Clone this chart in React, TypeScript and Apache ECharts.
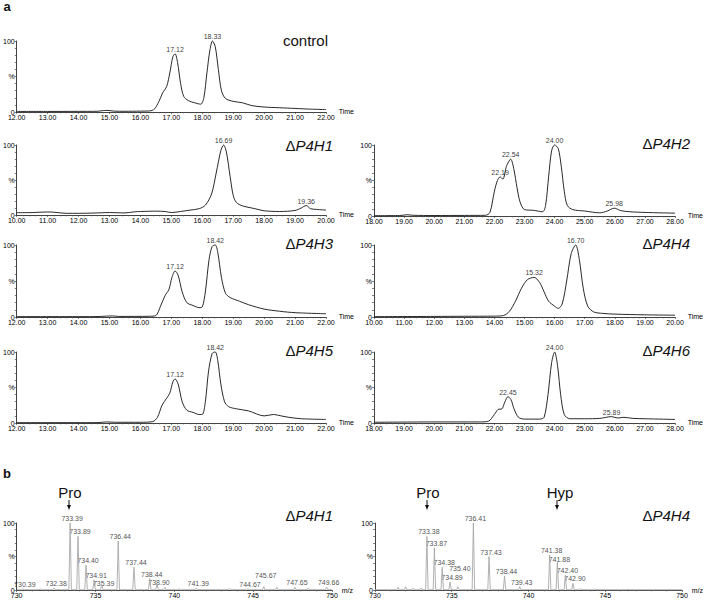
import React, { useEffect, useRef } from "react";
import * as echarts from "echarts";

const FONT = "'Liberation Sans', Arial, sans-serif";

// ---- chromatogram traces [time, %] ----
const controlTrace = [[12.0,0.8],[13.0,0.8],[14.0,0.9],[14.6,1],[14.8,2],[14.95,2.2],[15.15,1.2],[15.5,1],[16.0,1.2],[16.3,1.5],[16.45,4],[16.6,15],[16.72,27],[16.85,36],[16.95,55],[17.05,78],[17.12,82],[17.2,70],[17.3,40],[17.4,22],[17.55,16],[17.75,13],[17.95,11],[18.05,20],[18.15,55],[18.25,88],[18.33,100],[18.42,92],[18.52,60],[18.62,30],[18.75,19],[19.0,15],[19.3,13],[19.6,9],[20.0,7],[20.5,6],[21.0,5],[21.5,4],[22.0,3.5]];
const p4h1Trace = [[10.0,3.3],[10.5,3.5],[11.0,4.3],[11.2,4],[11.6,2.4],[12.0,2.4],[12.5,2.8],[13.0,3.5],[13.5,3],[13.8,4.5],[14.0,5],[14.5,5.5],[14.8,5],[15.0,3.5],[15.3,5],[15.6,7],[15.9,9],[16.1,14],[16.3,30],[16.45,60],[16.6,92],[16.69,100],[16.78,90],[16.9,55],[17.0,28],[17.1,18],[17.3,13],[17.6,10],[17.8,8],[18.0,6],[18.5,5],[19.0,6.5],[19.2,10],[19.36,13.5],[19.5,9],[19.7,8],[20.0,7]];
const p4h2Trace = [[18.0,0.5],[18.9,0.8],[19.1,1.8],[19.3,1],[20.0,0.7],[21.0,0.8],[21.7,1],[21.85,5],[22.0,35],[22.1,50],[22.19,55],[22.28,52],[22.4,70],[22.54,80],[22.65,65],[22.75,40],[22.85,20],[23.0,9],[23.3,8],[23.6,6],[23.7,15],[23.8,55],[23.9,92],[24.0,100],[24.12,95],[24.22,70],[24.32,35],[24.42,15],[24.6,9],[25.0,7],[25.5,4.5],[25.75,7],[25.98,11],[26.2,7.5],[26.5,6],[27.0,5],[28.0,4]];
const p4h3Trace = [[12.0,0.5],[14.5,0.5],[14.9,1.2],[15.1,1.5],[15.3,0.8],[16.3,1],[16.5,2],[16.65,15],[16.8,30],[16.92,38],[17.02,55],[17.12,64],[17.22,58],[17.35,35],[17.5,20],[17.7,16],[17.9,13],[18.0,14],[18.1,35],[18.22,80],[18.32,98],[18.42,100],[18.5,90],[18.62,55],[18.75,33],[18.9,27],[19.2,22],[19.5,17],[20.0,11],[20.5,8],[21.0,6],[22.0,4.5]];
const p4h4Trace = [[10.0,0.5],[12.0,0.8],[13.0,1],[14.0,1.2],[14.3,2],[14.5,8],[14.7,22],[14.9,40],[15.1,52],[15.32,55],[15.5,48],[15.65,35],[15.8,22],[16.0,15],[16.12,12],[16.25,18],[16.4,50],[16.55,88],[16.7,100],[16.82,80],[16.95,40],[17.1,15],[17.3,7],[17.6,5],[18.0,4],[19.0,3],[20.0,2.5]];
const p4h5Trace = [[12.0,0.5],[14.6,0.5],[14.9,1.5],[15.2,1],[16.0,1],[16.4,2],[16.55,8],[16.7,25],[16.85,35],[16.95,42],[17.05,58],[17.12,62],[17.22,55],[17.35,30],[17.5,18],[17.7,15],[17.9,12],[18.0,12],[18.1,30],[18.2,72],[18.32,98],[18.42,100],[18.5,88],[18.6,55],[18.72,30],[18.85,23],[19.1,20],[19.5,17],[20.0,10],[20.3,12],[20.55,10],[20.8,8],[21.2,6],[22.0,5]];
const p4h6Trace = [[18.0,1],[20.0,1.5],[21.5,1.5],[21.8,2.5],[22.0,12],[22.12,19],[22.25,20],[22.35,30],[22.45,37],[22.55,33],[22.65,20],[22.8,8],[23.0,5.5],[23.5,5.5],[23.65,8],[23.78,40],[23.9,85],[24.0,100],[24.1,80],[24.2,40],[24.32,12],[24.5,6],[25.0,6],[25.5,6.5],[25.89,9],[26.1,7],[26.3,8],[26.6,6.5],[27.0,6],[28.0,5]];

// ---- labelled chromatogram peaks [time, %] ----
const controlPeaks = [[17.12,82],[18.33,100]];
const p4h1Peaks = [[16.69,100],[19.36,13.5]];
const p4h2Peaks = [[22.19,55],[22.54,80],[24.0,100],[25.98,11]];
const p4h3Peaks = [[17.12,64],[18.42,100]];
const p4h4Peaks = [[15.32,55],[16.7,100]];
const p4h5Peaks = [[17.12,62],[18.42,100]];
const p4h6Peaks = [[22.45,37],[24.0,100],[25.89,9]];

// ---- mass spectra [m/z, %] ----
const ms1Peaks = [[730.39,2],[732.38,3],[733.39,100],[733.89,80],[734.40,37],[734.91,15],[735.39,8],[736.44,73],[737.44,34],[738.44,17],[738.90,9],[741.39,3],[744.67,2],[745.67,5],[747.65,4],[749.66,4]];
const ms1Minor = [[731.5,1.5],[739.4,4],[740.3,2],[743.5,2.5],[746.5,4],[748.5,3]];
const ms4Peaks = [[733.38,80],[733.87,63],[734.38,34],[734.89,12],[735.40,5],[736.41,100],[737.43,50],[738.44,21],[739.43,5],[741.38,52],[741.88,42],[742.40,22],[742.90,10]];
const ms4Minor = [[731.5,4],[732.0,5],[732.5,3],[733.0,3],[743.4,2],[744.3,2],[746.5,1]];

const chromPanels = [
  { name: "control", trace: controlTrace, peaks: controlPeaks, min: 12, max: 22, grid: { left: 16, top: 41, width: 310, height: 71 } },
  { name: "P4H1", trace: p4h1Trace, peaks: p4h1Peaks, min: 10, max: 20, grid: { left: 16, top: 145, width: 310, height: 70 } },
  { name: "P4H2", trace: p4h2Trace, peaks: p4h2Peaks, min: 18, max: 28, grid: { left: 374, top: 145, width: 302, height: 71 } },
  { name: "P4H3", trace: p4h3Trace, peaks: p4h3Peaks, min: 12, max: 22, grid: { left: 16, top: 245, width: 310, height: 72 } },
  { name: "P4H4", trace: p4h4Trace, peaks: p4h4Peaks, min: 10, max: 20, grid: { left: 374, top: 245, width: 302, height: 72 } },
  { name: "P4H5", trace: p4h5Trace, peaks: p4h5Peaks, min: 12, max: 22, grid: { left: 16, top: 352, width: 310, height: 71 } },
  { name: "P4H6", trace: p4h6Trace, peaks: p4h6Peaks, min: 18, max: 28, grid: { left: 374, top: 352, width: 302, height: 71 } },
];
const msPanels = [
  { peaks: ms1Peaks, minor: ms1Minor, grid: { left: 16, top: 523, width: 316, height: 67 } },
  { peaks: ms4Peaks, minor: ms4Minor, grid: { left: 375, top: 523, width: 315, height: 67 } },
];

const MS_FONT = 7;
const MS_LABEL_DX = 2;

function msProfile(peaks: number[][], minor: number[][]) {
  const all = [...peaks, ...minor].sort((a, b) => a[0] - b[0]);
  const pts: number[][] = [[730, 0.4]];
  all.forEach(([mz, h]) => {
    pts.push([mz - 0.08, 0.4], [mz, h], [mz + 0.08, 0.4]);
  });
  pts.push([750, 0.4]);
  return pts;
}

// place MS peak labels so they don't collide: drop below a colliding label, or lift above it near the axis
function msLabelItems(peaks: number[][], grid: any) {
  const pxX = (mz: number) => grid.left + ((mz - 730) / 20) * grid.width + MS_LABEL_DX;
  const pxY = (h: number) => grid.top + grid.height - (h / 100) * grid.height;
  const lh = 8;
  const placed: { x0: number; x1: number; y0: number; y1: number }[] = [];
  return peaks.map(([mz, h]) => {
    const txt = mz.toFixed(2);
    const w = txt.length * MS_FONT * 0.52;
    const cx = pxX(mz);
    const natBottom = pxY(h) - 1;
    let box = { x0: cx - w / 2, x1: cx + w / 2, y0: natBottom - lh, y1: natBottom };
    const hits = placed.filter((b) => b.x0 < box.x1 && b.x1 > box.x0 && b.y0 < box.y1 && b.y1 > box.y0);
    if (hits.length) {
      const below = Math.max(...hits.map((b) => b.y1)) + 0.5;
      if (below + lh <= grid.top + grid.height - 1) {
        box = { ...box, y0: below, y1: below + lh };
      } else {
        const above = Math.min(...hits.map((b) => b.y0)) - 0.5;
        box = { ...box, y0: above - lh, y1: above };
      }
    }
    placed.push(box);
    const dy = box.y1 - natBottom;
    return { value: [mz, h], label: { offset: [MS_LABEL_DX, dy] } };
  });
}

const yLabel = (v: number) => (v === 0 ? "0" : v === 50 ? "%" : v === 100 ? "100" : "");
const TXT = "#000";

function buildOption() {
  const grids: any[] = [];
  const xAxes: any[] = [];
  const yAxes: any[] = [];
  const series: any[] = [];
  const lineAx = { show: true, lineStyle: { color: "#111", width: 0.8 } };

  const addY = (i: number) => {
    yAxes.push({
      type: "value", gridIndex: i, min: 0, max: 100, interval: 10,
      axisLine: lineAx, splitLine: { show: false },
      axisTick: { show: true, length: 2, lineStyle: { color: "#333", width: 0.6 } },
      axisLabel: { formatter: yLabel, fontSize: 7, color: TXT, fontFamily: FONT, margin: 2 },
    });
  };

  chromPanels.forEach((p, i) => {
    grids.push({ ...p.grid, containLabel: false });
    xAxes.push({
      type: "value", gridIndex: i, min: p.min, max: p.max, interval: 1,
      name: "Time", nameLocation: "end", nameGap: 2,
      nameTextStyle: { fontSize: 7, color: TXT, fontFamily: FONT, verticalAlign: "bottom", padding: [0, 0, -3, 0] },
      axisLine: lineAx, splitLine: { show: false },
      axisTick: { show: true, length: 2, lineStyle: { color: "#333", width: 0.6 } },
      minorTick: { show: true, splitNumber: 5, length: 1.5, lineStyle: { color: "#555", width: 0.5 } },
      axisLabel: { formatter: (v: number) => v.toFixed(2), fontSize: 7, color: TXT, fontFamily: FONT, margin: 2, showMinLabel: true, showMaxLabel: true },
    });
    addY(i);
    series.push({
      type: "line", xAxisIndex: i, yAxisIndex: i, data: p.trace, smooth: 0.3, symbol: "none",
      lineStyle: { color: "#111", width: 0.9 }, clip: false, silent: true,
    });
    series.push({
      type: "scatter", xAxisIndex: i, yAxisIndex: i, data: p.peaks, symbolSize: 0, silent: true,
      itemStyle: { color: "#000" },
      label: { show: true, position: "top", distance: 1, fontSize: 7, color: TXT, fontFamily: FONT,
        formatter: (d: any) => d.value[0].toFixed(2) },
    });
  });

  msPanels.forEach((p, j) => {
    const i = chromPanels.length + j;
    grids.push({ ...p.grid, containLabel: false });
    xAxes.push({
      type: "value", gridIndex: i, min: 730, max: 750, interval: 5,
      name: "m/z", nameLocation: "end", nameGap: 3,
      nameTextStyle: { fontSize: 7, color: TXT, fontFamily: FONT, verticalAlign: "middle", padding: [0, 0, 4, 0] },
      axisLine: lineAx, splitLine: { show: false },
      axisTick: { show: true, length: 2, lineStyle: { color: "#333", width: 0.6 } },
      minorTick: { show: true, splitNumber: 5, length: 1.5, lineStyle: { color: "#555", width: 0.5 } },
      axisLabel: { fontSize: 7, color: TXT, fontFamily: FONT, margin: 2, showMinLabel: true, showMaxLabel: true },
    });
    addY(i);
    series.push({
      type: "line", xAxisIndex: i, yAxisIndex: i, data: msProfile(p.peaks, p.minor), smooth: false, symbol: "none",
      lineStyle: { color: "#a8a8a8", width: 0.9 }, clip: false, silent: true,
    });
    series.push({
      type: "scatter", xAxisIndex: i, yAxisIndex: i, data: msLabelItems(p.peaks, p.grid), symbolSize: 0, silent: true,
      itemStyle: { color: "#000" },
      label: { show: true, position: "top", distance: 1, fontSize: MS_FONT, color: "#222", fontFamily: FONT,
        formatter: (d: any) => d.value[0].toFixed(2) },
    });
  });

  const title = (x: number, y: number, name: string) => ({
    type: "text", x, y,
    style: {
      text: name === "control" ? "control" : "{d|Δ}{i|" + name + "}",
      rich: { d: { fontStyle: "normal", fontSize: 15, fontFamily: FONT, fill: "#111" }, i: { fontStyle: "italic", fontSize: 15, fontFamily: FONT, fill: "#111" } },
      fontSize: 15, fontFamily: FONT, fill: "#111", align: "right", verticalAlign: "middle",
    },
  });
  const arrow = (x: number) => ([
    { type: "line", shape: { x1: x, y1: 500, x2: x, y2: 507 }, style: { stroke: "#111", lineWidth: 1 } },
    { type: "polygon", shape: { points: [[x - 2, 505], [x + 2, 505], [x, 510]] }, style: { fill: "#111" } },
  ]);
  const label = (x: number, y: number, text: string, extra: any = {}) => ({
    type: "text", x, y, style: { text, fontSize: 15, fontFamily: FONT, fill: "#111", align: "center", verticalAlign: "middle", ...extra },
  });

  const graphic: any[] = [
    label(7, 6, "a", { fontWeight: "bold", fontSize: 13 }),
    label(7, 473, "b", { fontWeight: "bold", fontSize: 13 }),
    title(328, 40, "control"),
    title(333, 145, "P4H1"),
    title(690, 143, "P4H2"),
    title(333, 243, "P4H3"),
    title(690, 243, "P4H4"),
    title(333, 350, "P4H5"),
    title(690, 350, "P4H6"),
    title(333, 515, "P4H1"),
    title(690, 515, "P4H4"),
    label(70, 492, "Pro"),
    label(428, 492, "Pro"),
    label(560, 492, "Hyp"),
    ...arrow(69), ...arrow(427), ...arrow(557),
  ];

  return { animation: false, backgroundColor: "#fff", grid: grids, xAxis: xAxes, yAxis: yAxes, series, graphic };
}

export default function App() {
  const ref = useRef<HTMLDivElement>(null);
  useEffect(() => {
    if (!ref.current) return;
    const chart = echarts.init(ref.current, undefined, { renderer: "svg" });
    chart.setOption(buildOption() as any);
    return () => chart.dispose();
  }, []);
  return <div ref={ref} style={{ position: "absolute", left: 0, top: 0, width: 704, height: 602, background: "#fff" }} />;
}
